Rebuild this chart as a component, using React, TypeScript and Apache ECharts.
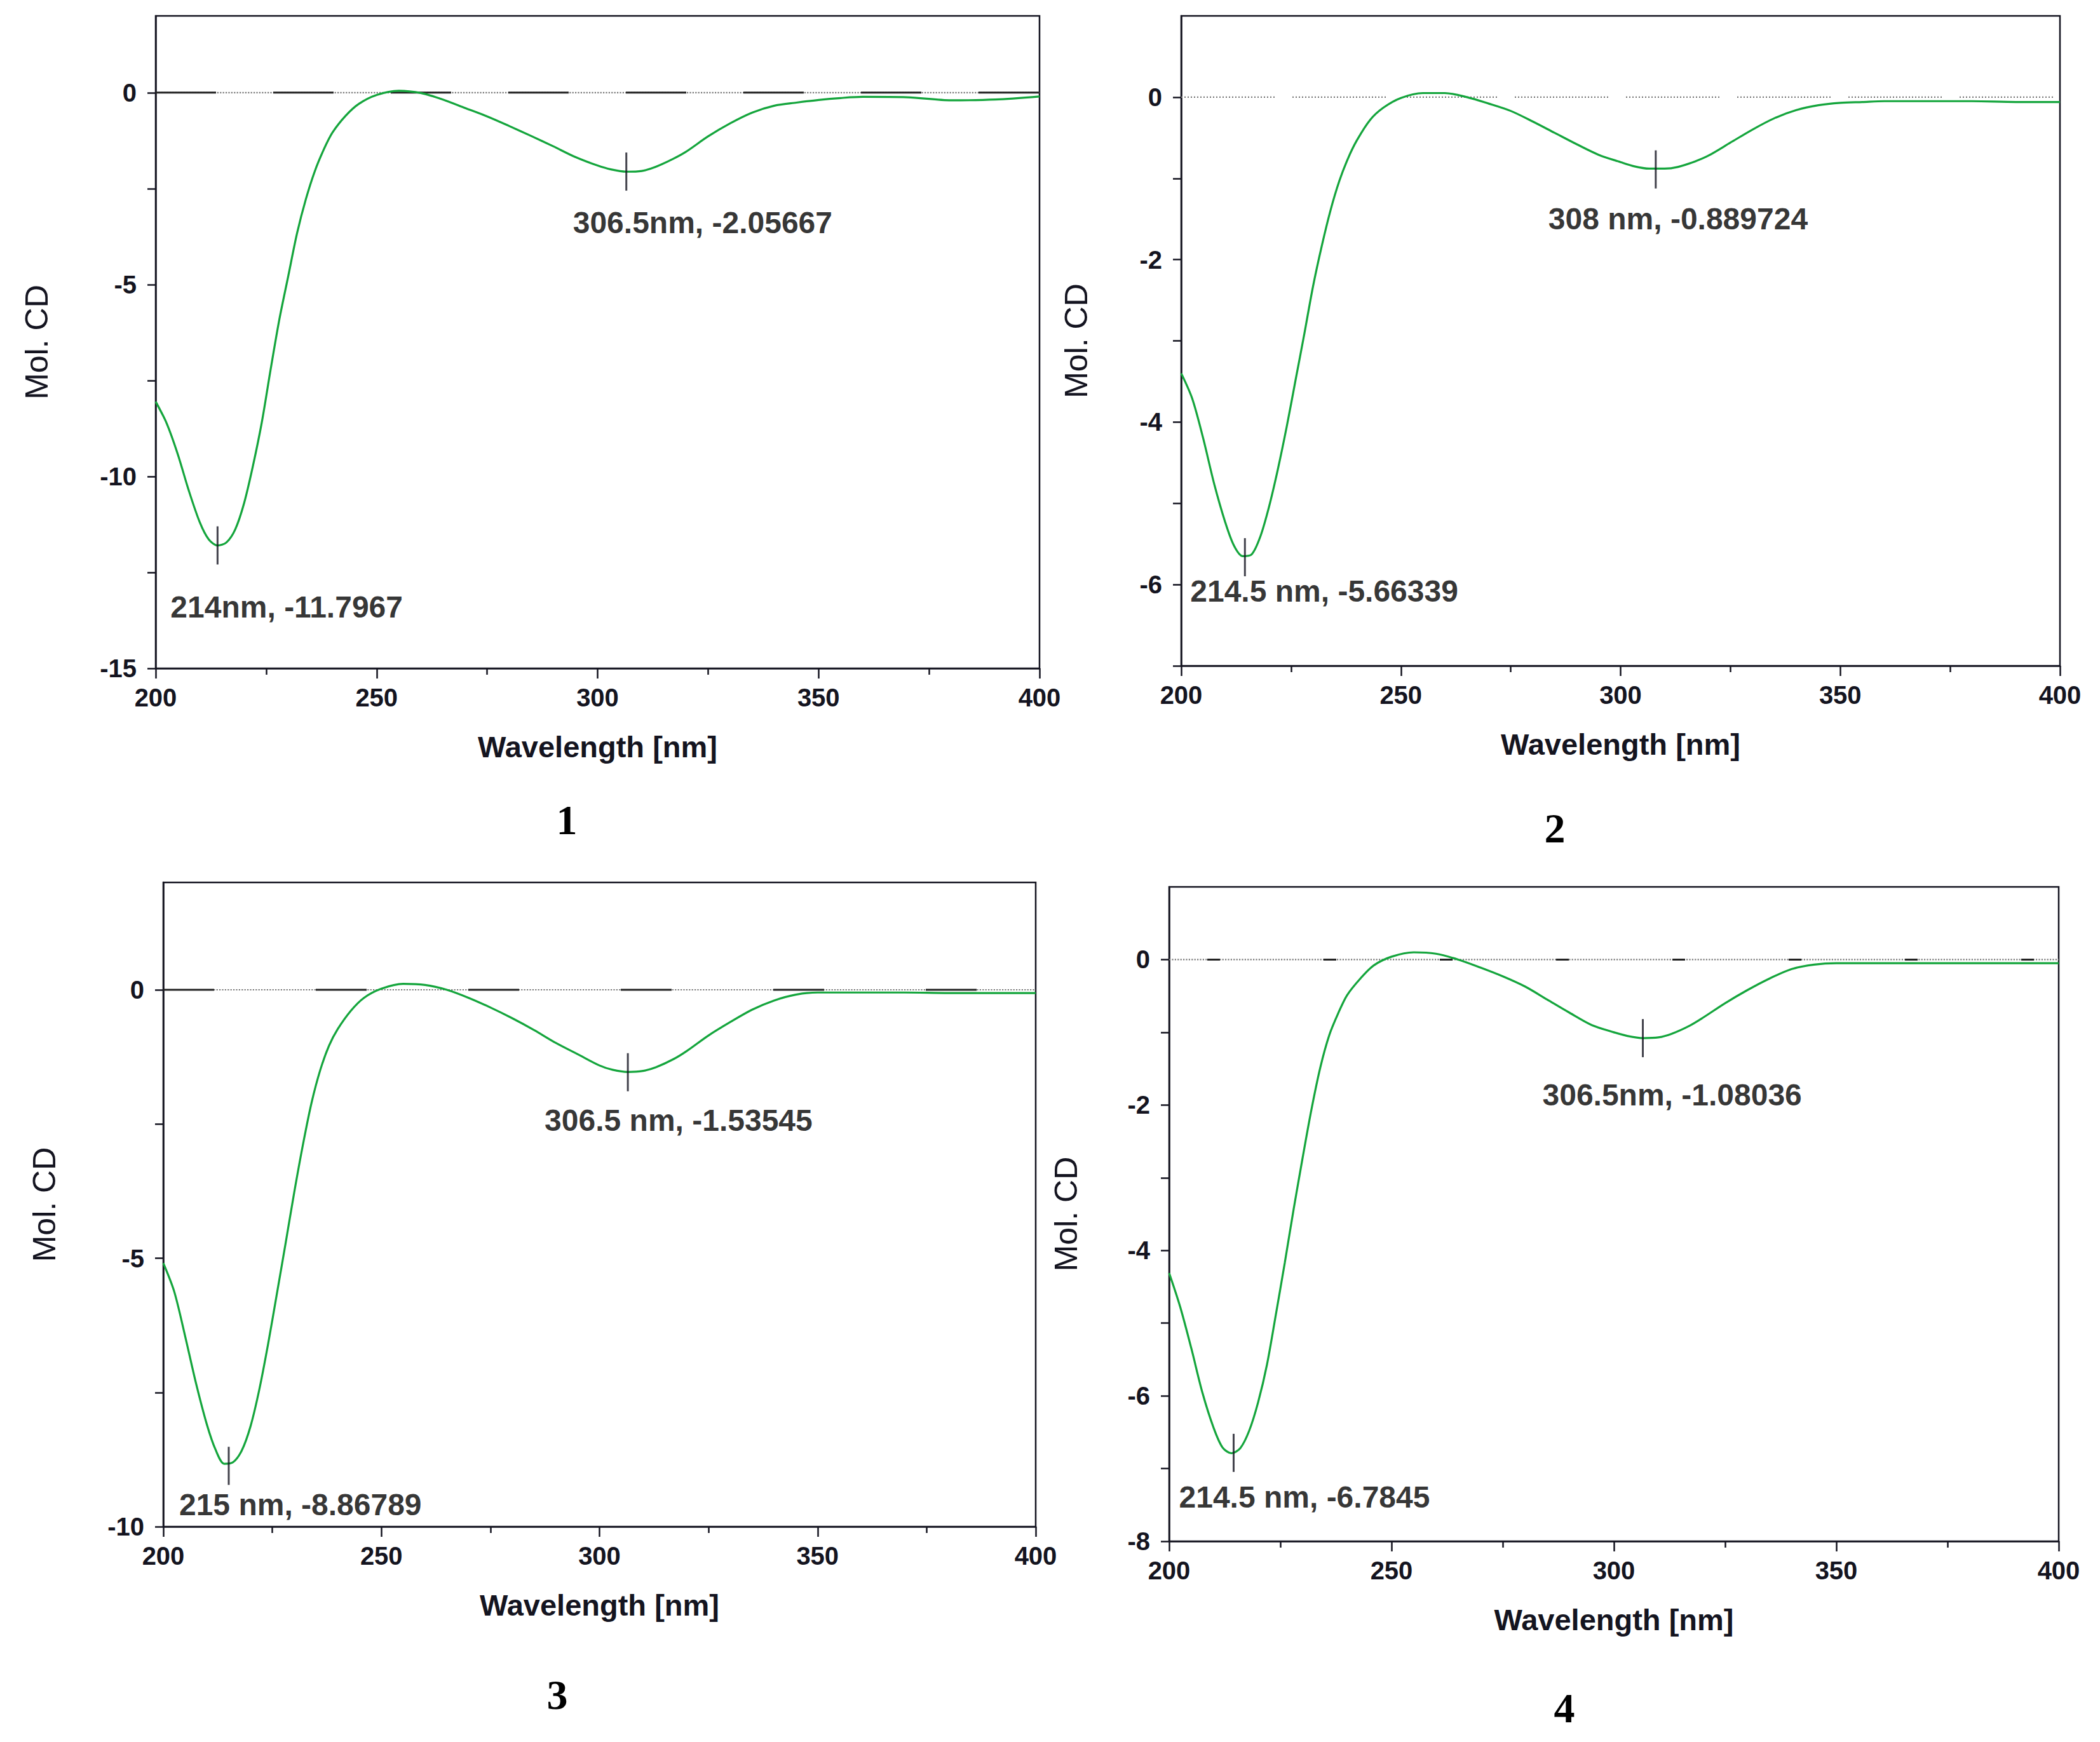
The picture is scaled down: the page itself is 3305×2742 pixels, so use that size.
import React, { useEffect, useRef } from "react";
import * as echarts from "echarts";

// ---------- DATA ----------
const wavelengths = [
  200, 202.5, 205, 207.5, 210, 212, 214, 216, 218, 220,
  222, 224, 226, 228, 230, 232, 234, 236, 238, 240,
  243, 246, 250, 255, 260, 265, 270, 275, 280, 285,
  290, 295, 300, 303, 306.5, 310, 313, 317, 320, 325,
  330, 335, 340, 345, 350, 355, 360, 370, 380, 390,
  400,
];

const molCD1 = [
  -8.05, -8.62, -9.42, -10.37, -11.2, -11.64, -11.8, -11.72, -11.38, -10.7,
  -9.73, -8.6, -7.22, -5.9, -4.78, -3.66, -2.77, -2.05, -1.49, -1.04,
  -0.6, -0.29, -0.06, 0.05, -0.01, -0.18, -0.4, -0.62, -0.87, -1.13,
  -1.4, -1.68, -1.9, -2.0, -2.06, -2.04, -1.94, -1.73, -1.54, -1.14,
  -0.8, -0.52, -0.34, -0.26, -0.19, -0.14, -0.11, -0.12, -0.2, -0.18,
  -0.1,
];
const molCD2 = [
  -3.4, -3.71, -4.2, -4.76, -5.23, -5.52, -5.65, -5.63, -5.41, -5.04,
  -4.58, -4.06, -3.49, -2.92, -2.33, -1.83, -1.39, -1.03, -0.75, -0.53,
  -0.28, -0.13, -0.01, 0.05, 0.05, 0.0, -0.08, -0.17, -0.3, -0.44,
  -0.58, -0.71, -0.8, -0.85, -0.88, -0.88, -0.86, -0.79, -0.72, -0.56,
  -0.4, -0.26, -0.16, -0.1, -0.07, -0.06, -0.05, -0.05, -0.05, -0.06,
  -0.06,
];
const molCD3 = [
  -5.09, -5.62, -6.45, -7.33, -8.1, -8.57, -8.83, -8.8, -8.58, -8.13,
  -7.45, -6.61, -5.68, -4.74, -3.78, -2.89, -2.1, -1.49, -1.04, -0.73,
  -0.39, -0.15, 0.02, 0.11, 0.09, 0.0, -0.15, -0.33, -0.53, -0.75,
  -0.99, -1.2, -1.41, -1.49, -1.53, -1.51, -1.44, -1.29, -1.14, -0.85,
  -0.6, -0.37, -0.2, -0.09, -0.05, -0.05, -0.05, -0.05, -0.06, -0.06,
  -0.06,
];
const molCD4 = [
  -4.31, -4.78, -5.35, -5.96, -6.44, -6.71, -6.79, -6.72, -6.48, -6.09,
  -5.57, -4.88, -4.17, -3.43, -2.73, -2.06, -1.48, -1.04, -0.74, -0.49,
  -0.26, -0.08, 0.04, 0.1, 0.08, 0.0, -0.11, -0.23, -0.37, -0.55,
  -0.73, -0.9, -1.0, -1.05, -1.08, -1.07, -1.02, -0.91, -0.8, -0.6,
  -0.42, -0.26, -0.13, -0.07, -0.05, -0.05, -0.05, -0.05, -0.05, -0.05,
  -0.05,
];

const extrema1 = [[214, -11.7967], [306.5, -2.05667]];
const extrema2 = [[214.5, -5.66339], [308, -0.889724]];
const extrema3 = [[215, -8.86789], [306.5, -1.53545]];
const extrema4 = [[214.5, -6.7845], [306.5, -1.08036]];

const extremaText1 = ["214nm, -11.7967", "306.5nm, -2.05667"];
const extremaText2 = ["214.5 nm, -5.66339", "308 nm, -0.889724"];
const extremaText3 = ["215 nm, -8.86789", "306.5 nm, -1.53545"];
const extremaText4 = ["214.5 nm, -6.7845", "306.5nm, -1.08036"];

const yTicks1 = [-15, -12.5, -10, -7.5, -5, -2.5, 0];
const yLabels1 = [-15, -10, -5, 0];
const yTicks2 = [-7, -6, -5, -4, -3, -2, -1, 0];
const yLabels2 = [-6, -4, -2, 0];
const yTicks3 = [-10, -7.5, -5, -2.5, 0];
const yLabels3 = [-10, -5, 0];
const yTicks4 = [-8, -7, -6, -5, -4, -3, -2, -1, 0];
const yLabels4 = [-8, -6, -4, -2, 0];

const yRange1 = [-15, 2];
const yRange2 = [-7, 1];
const yRange3 = [-10, 2];
const yRange4 = [-8, 1];

const xRange = [200, 400];
const panelNumbers = ["1", "2", "3", "4"];
const xTitle = "Wavelength [nm]";
const yTitle = "Mol. CD";

// ---------- LAYOUT / STYLE ----------
const FONT = "'Liberation Sans', Arial, sans-serif";
const INK = "#141420";
const GREEN = "#14a53c";

const makeDots = (len: number, gap: number) => {
  const arr: number[] = [];
  const n = Math.round(len / 5);
  for (let k = 0; k < n; k++) arr.push(2, 3);
  arr[arr.length - 1] = gap;
  return arr;
};

const layouts = [
  { left: 245, top: 25, width: 1391, height: 1027, yGap: 162, num: [892, 1290], offs: [[-74, 97], [-84, 80]], dark: [95, 90], darkOff: 0, gapped: false },
  { left: 1859, top: 25, width: 1383, height: 1023, yGap: 140, num: [2447, 1303], offs: [[-86, 53], [-169, 78]], dark: null, darkOff: 0, gapped: true },
  { left: 257, top: 1389, width: 1373, height: 1014, yGap: 162, num: [877, 2667], offs: [[-78, 61], [-131, 76]], dark: [80, 160], darkOff: 0, gapped: false },
  { left: 1840, top: 1396, width: 1400, height: 1030, yGap: 137, num: [2462, 2688], offs: [[-86, 70], [-158, 89]], dark: [20, 163], darkOff: -60, gapped: false },
];

const panelsData = [
  { values: molCD1, extrema: extrema1, texts: extremaText1, yRange: yRange1, yTicks: yTicks1, yLabels: yLabels1 },
  { values: molCD2, extrema: extrema2, texts: extremaText2, yRange: yRange2, yTicks: yTicks2, yLabels: yLabels2 },
  { values: molCD3, extrema: extrema3, texts: extremaText3, yRange: yRange3, yTicks: yTicks3, yLabels: yLabels3 },
  { values: molCD4, extrema: extrema4, texts: extremaText4, yRange: yRange4, yTicks: yTicks4, yLabels: yLabels4 },
];

const MARK_W = 3;
const MARK_H = 60;

function buildOption() {
  const grid: any[] = [];
  const xAxis: any[] = [];
  const yAxis: any[] = [];
  const series: any[] = [];
  const graphic: any[] = [];

  panelsData.forEach((p, i) => {
    const L = layouts[i];
    grid.push({
      left: L.left, top: L.top, width: L.width, height: L.height,
      show: true, borderColor: INK, borderWidth: 2.5, backgroundColor: "transparent",
    });
    xAxis.push({
      type: "value", gridIndex: i, min: xRange[0], max: xRange[1], interval: 50,
      name: xTitle, nameLocation: "middle", nameGap: 100,
      nameTextStyle: { fontFamily: FONT, fontSize: 47, fontWeight: "bold", color: INK },
      axisLine: { show: true, onZero: false, lineStyle: { color: INK, width: 2.5 } },
      axisTick: { show: true, length: 16, lineStyle: { color: INK, width: 2.5 } },
      minorTick: { show: true, splitNumber: 2, length: 10, lineStyle: { color: INK, width: 2.5 } },
      axisLabel: { fontFamily: FONT, fontSize: 40, fontWeight: "bold", color: INK, margin: 26 },
      splitLine: { show: false },
    });
    yAxis.push({
      type: "value", gridIndex: i, min: p.yRange[0], max: p.yRange[1],
      name: yTitle, nameLocation: "middle", nameGap: L.yGap, nameRotate: 90,
      nameTextStyle: { fontFamily: FONT, fontSize: 50, color: INK },
      axisLine: { show: true, onZero: false, lineStyle: { color: INK, width: 2.5 } },
      axisTick: { show: true, length: 13, customValues: p.yTicks, lineStyle: { color: INK, width: 2.5 } },
      axisLabel: { fontFamily: FONT, fontSize: 40, fontWeight: "bold", color: INK, margin: 30, customValues: p.yLabels },
      splitLine: { show: false },
    });

    // zero reference line
    const zeroData = [[xRange[0], 0], [xRange[1], 0]];
    series.push({
      type: "line", xAxisIndex: i, yAxisIndex: i, data: zeroData, symbol: "none", silent: true,
      lineStyle: { color: "#777", width: 2.2, type: L.gapped ? makeDots(150, 28) : "dotted" },
      z: 1,
    });
    if (L.dark) {
      series.push({
        type: "line", xAxisIndex: i, yAxisIndex: i, data: zeroData, symbol: "none", silent: true,
        lineStyle: { color: "#222", width: 3, type: L.dark, dashOffset: L.darkOff },
        z: 2,
      });
    }

    // CD curve
    series.push({
      type: "line", xAxisIndex: i, yAxisIndex: i,
      data: wavelengths.map((w, k) => [w, p.values[k]]),
      symbol: "none", smooth: 0.3,
      lineStyle: { color: GREEN, width: 3.2 },
      z: 3,
    });

    // extrema markers + labels
    series.push({
      type: "scatter", xAxisIndex: i, yAxisIndex: i,
      data: p.extrema.map((e, k) => ({
        value: e,
        label: {
          show: true, formatter: p.texts[k],
          position: [MARK_W / 2 + L.offs[k][0], MARK_H / 2 + L.offs[k][1]],
          align: "left", verticalAlign: "middle",
          fontFamily: FONT, fontSize: 48, fontWeight: "bold", color: "#000",
          textBorderWidth: 0,
        },
      })),
      symbol: "rect", symbolSize: [MARK_W, MARK_H],
      itemStyle: { color: INK },
      z: 4,
    });

    graphic.push({
      type: "text", x: L.num[0], y: L.num[1],
      style: {
        text: panelNumbers[i], fontFamily: "'Liberation Serif', 'Times New Roman', serif",
        fontSize: 66, fontWeight: "bold", fill: "#000", align: "center", verticalAlign: "middle",
      },
    });
  });

  return { animation: false, backgroundColor: "#fff", grid, xAxis, yAxis, series, graphic };
}

export default function App() {
  const ref = useRef<HTMLDivElement>(null);
  useEffect(() => {
    if (!ref.current) return;
    const chart = echarts.init(ref.current, undefined, { renderer: "svg" });
    chart.setOption(buildOption() as any);
    return () => chart.dispose();
  }, []);
  return (
    <div
      ref={ref}
      style={{ position: "absolute", left: 0, top: 0, width: 3305, height: 2742, background: "#fff" }}
    />
  );
}
